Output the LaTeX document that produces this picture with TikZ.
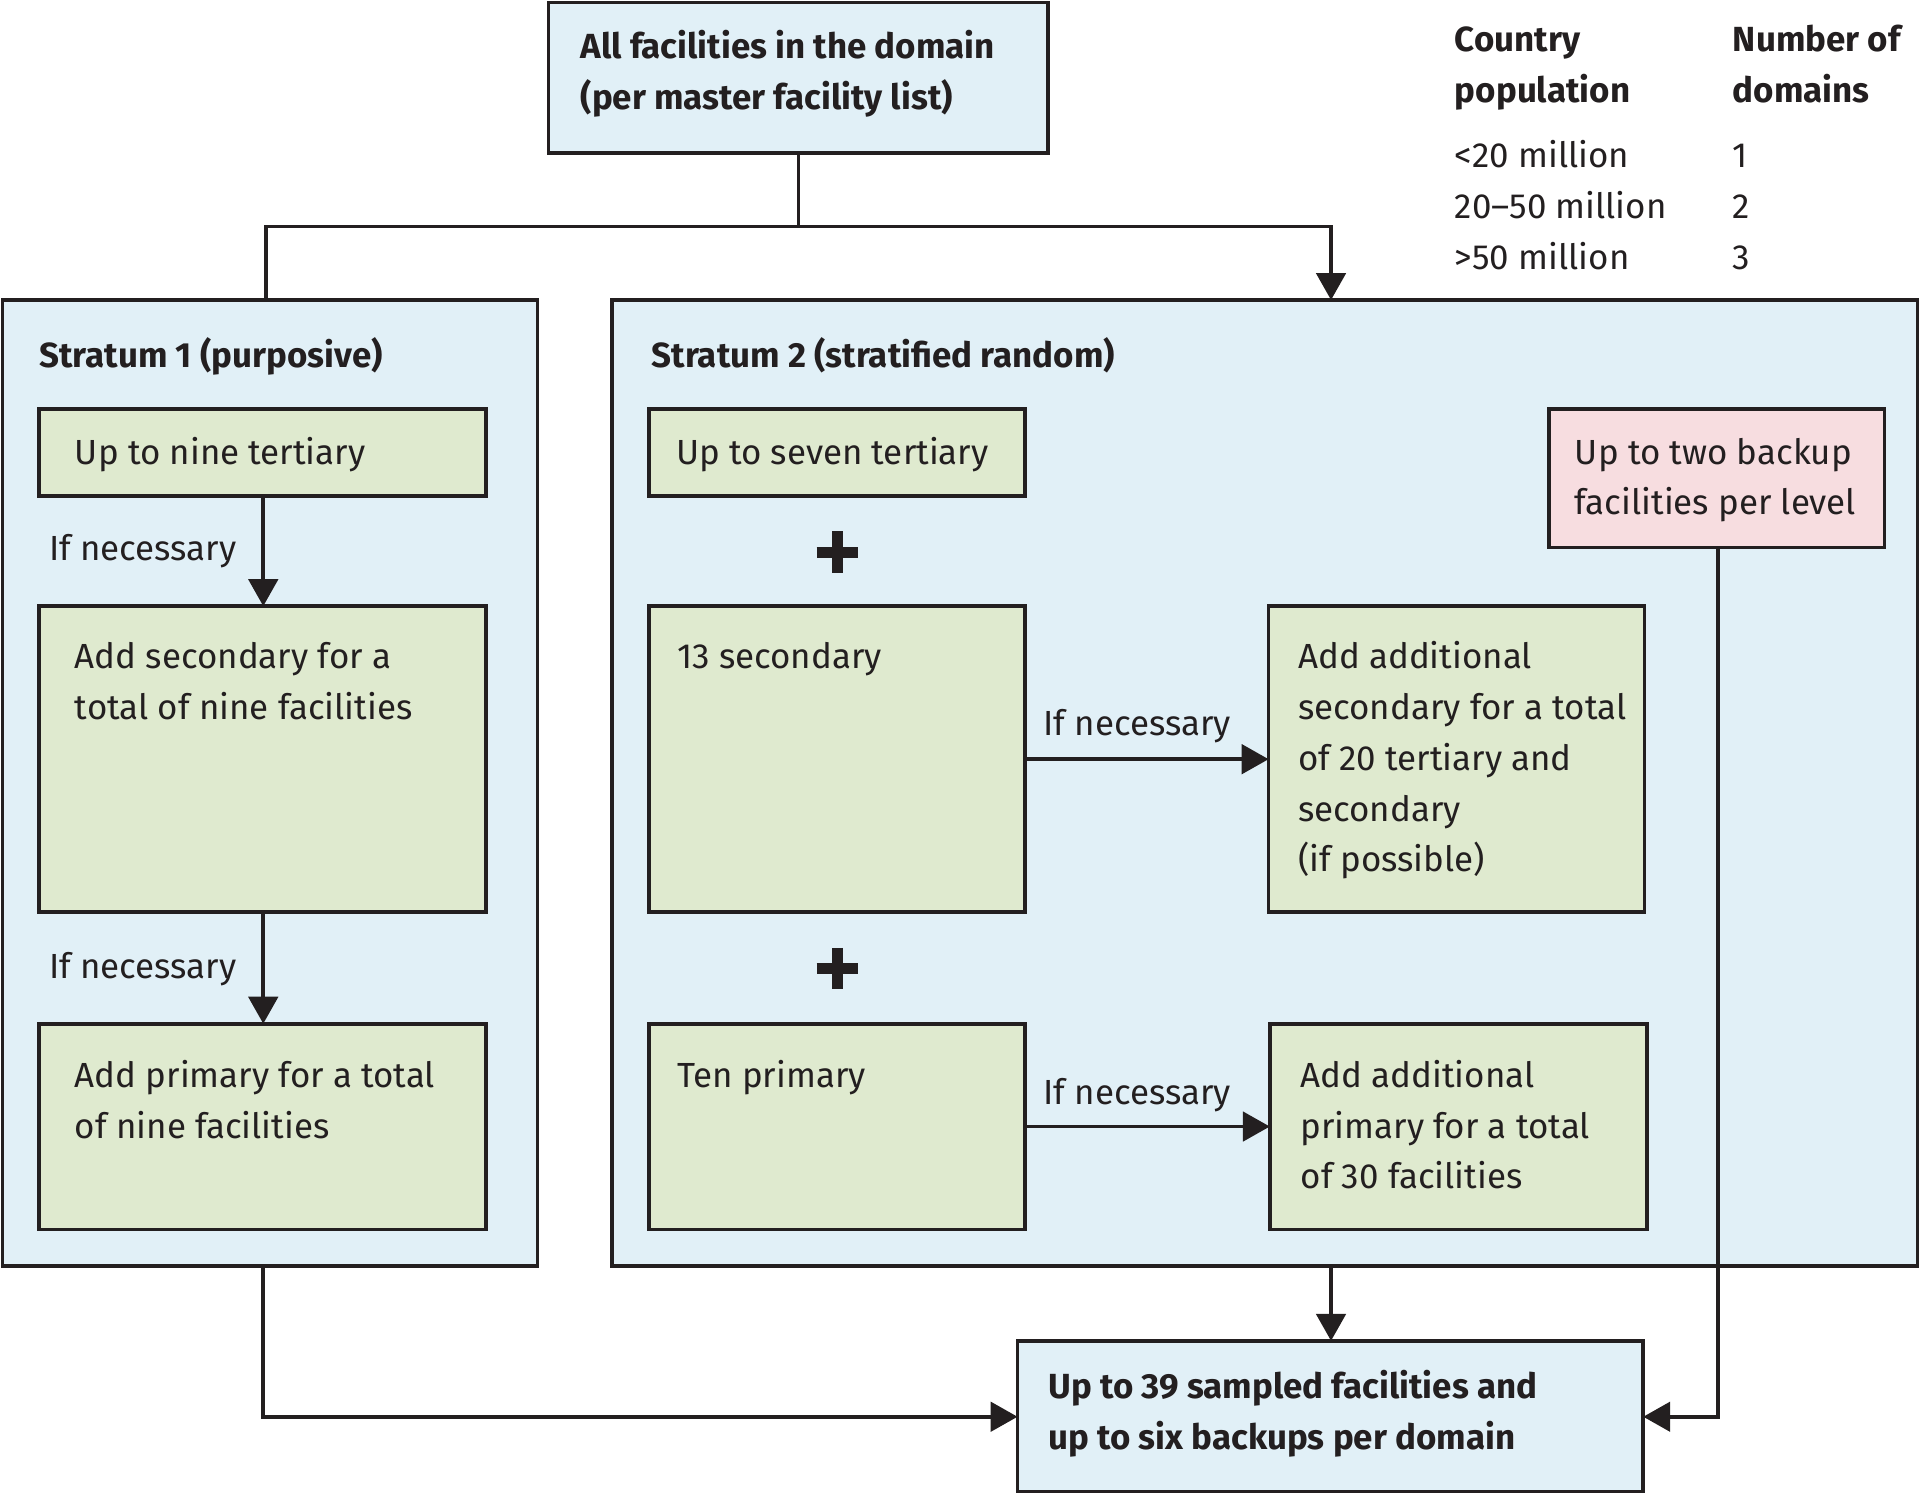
\documentclass[tikz,border=0pt]{standalone}
\usepackage{fontspec}
\setmainfont{Fira Sans}
\usetikzlibrary{arrows.meta}
\definecolor{bl}{HTML}{E1F0F7}
\definecolor{gr}{HTML}{DFEACF}
\definecolor{pk}{HTML}{F7DDE0}
\definecolor{ln}{HTML}{231F20}
\begin{document}
\begin{tikzpicture}[x=1pt,y=-1pt,
  box/.style={draw=ln,line width=3pt},
  txt/.style={anchor=base west,inner sep=0,align=left,font=\fontsize{28.5}{41.5}\selectfont,text=ln},
  hd/.style={txt,font=\fontsize{28.5}{41.5}\selectfont\bfseries},
  con/.style={draw=ln,line width=3pt},
  arr/.style={con,-{Triangle[length=22pt,width=24pt]}},
  plus/.style={draw=ln,line width=9pt}]
\useasboundingbox (0,0) rectangle (1568,1220);
% boxes
\draw[box,fill=bl] (448,2) rectangle (856,125);
\coordinate (topb) at (652,125);
\draw[box,fill=bl] (2,245) rectangle (439,1034);
\draw[box,fill=bl] (500,245) rectangle (1566,1034);
\draw[box,fill=bl] (831,1095) rectangle (1342,1218);
\draw[box,fill=gr] (32,334) rectangle (397,405);
\draw[box,fill=gr] (32,495) rectangle (397,745);
\draw[box,fill=gr] (32,836) rectangle (397,1004);
\draw[box,fill=gr] (530,334) rectangle (837,405);
\draw[box,fill=gr] (530,495) rectangle (837,745);
\draw[box,fill=gr] (1036,495) rectangle (1343,745);
\draw[box,fill=gr] (530,836) rectangle (837,1004);
\draw[box,fill=gr] (1037,836) rectangle (1345,1004);
\draw[box,fill=pk] (1265,334) rectangle (1539,447);
% coordinates
\coordinate (j) at (652,185);
\coordinate (s1t) at (217,245);
\coordinate (s2t) at (1087,245);
% connectors
\draw[con] (topb) -- (j) -| (s1t);
\draw[arr] (j) -| (s2t);
\draw[arr] (215,405) -- (215,495);
\draw[arr] (215,745) -- (215,836);
\draw[arr] (837,620) -- (1036,620);
\draw[arr] (837,920) -- (1037,920);
\draw[arr] (1087,1034) -- (1087,1095);
\draw[arr] (215,1034) |- (831,1157);
\draw[arr] (1403,447) |- (1342,1157);
% plus
\draw[plus] (667,451) -- (701,451) (684,434) -- (684,468);
\draw[plus] (667,791) -- (701,791) (684,774) -- (684,808);
% texts (anchor = baseline of last line)
\node[hd] at (474,89.5) {All facilities in the domain\\(per master facility list)};
\node[hd] at (1188,83.5) {Country\\population};
\node[hd] at (1415,83.5) {Number of\\domains};
\node[txt] at (1188,220) {<20 million\\20–50 million\\>50 million};
\node[txt] at (1415,220) {1\\2\\3};
\node[hd] at (32,300) {Stratum 1 (purposive)};
\node[hd] at (532,300) {Stratum 2 (stratified random)};
\node[txt] at (61,379) {Up to nine tertiary};
\node[txt] at (40,458) {If necessary};
\node[txt] at (61,587.5) {Add secondary for a\\total of nine facilities};
\node[txt] at (40,799) {If necessary};
\node[txt] at (61,929.5) {Add primary for a total\\of nine facilities};
\node[txt] at (552,379) {Up to seven tertiary};
\node[txt] at (553,546) {13 secondary};
\node[txt] at (852,601) {If necessary};
\node[txt] at (1060,712) {Add additional\\secondary for a total\\of 20 tertiary and\\secondary\\(if possible)};
\node[txt] at (553,888) {Ten primary};
\node[txt] at (852,902) {If necessary};
\node[txt] at (1062,971) {Add additional\\primary for a total\\of 30 facilities};
\node[txt] at (1286,420.5) {Up to two backup\\facilities per level};
\node[hd] at (856,1183.5) {Up to 39 sampled facilities and\\up to six backups per domain};
\end{tikzpicture}
\end{document}
